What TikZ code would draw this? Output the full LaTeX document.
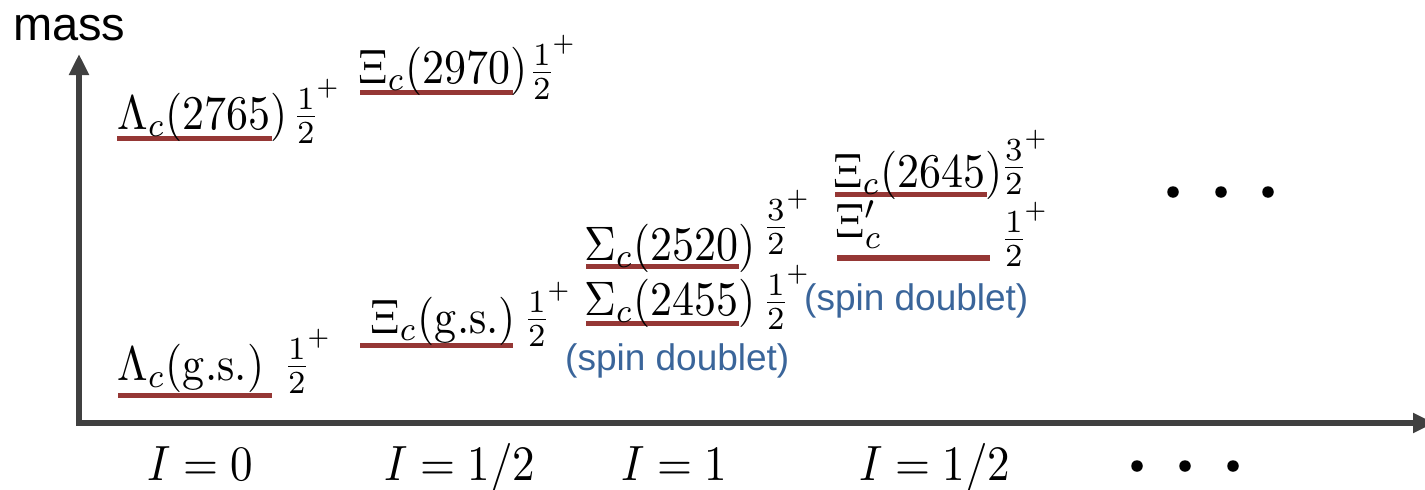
\documentclass[tikz,border=0pt]{standalone}
\usepackage[no-math]{fontspec}
\usepackage{graphicx}
\newfontfamily\labsans{Liberation Sans}
\usetikzlibrary{arrows.meta}
\definecolor{lvlred}{HTML}{953735}
\definecolor{noteblue}{HTML}{3A659A}
\definecolor{axisgray}{HTML}{404040}
\newcommand{\stm}[1]{\scalebox{4.4}[4.84]{\fontsize{10}{12}\selectfont$#1$}}
\newcommand{\stiso}[1]{\scalebox{4.5}[4.95]{\fontsize{10}{12}\selectfont$#1$}}
\newcommand{\jpf}[1]{\scalebox{4.4}[4.6]{\fontsize{10}{12}\selectfont$\frac{#1}{2}^{\kern-0.9pt\raisebox{1.3pt}{$\scriptscriptstyle +$}}$}}
\tikzset{
  lvl/.style={draw=lvlred, line width=5.5pt},
  lab/.style={anchor=base west, inner sep=0pt},
  note/.style={anchor=base west, inner sep=0pt, text=noteblue, font=\fontsize{37}{40}\selectfont\labsans},
  axisline/.style={draw=axisgray, line width=5.5pt, {Triangle[length=21pt,width=19pt]}-{Triangle[length=21pt,width=19pt]}},
  dotnode/.style={circle, fill=black, inner sep=0pt, minimum size=11.5pt},
}
\begin{document}
\begin{tikzpicture}[x=1pt,y=-1pt]
\useasboundingbox (0,0) rectangle (1425,490);
% axes
\coordinate (O) at (79,423);
\coordinate (ytip) at (79,54);
\coordinate (xtip) at (1434,423);
\draw[axisline] (ytip) -- (O) -- (xtip);
\node[anchor=base west, inner sep=0pt, font=\fontsize{47}{50}\selectfont\labsans] (mass) at (13,40) {mass};
% level lines
\draw[lvl] (117,138.5) -- (272,138.5);
\draw[lvl] (360,92.5) -- (513,92.5);
\draw[lvl] (118,395.5) -- (272,395.5);
\draw[lvl] (360,345.5) -- (513,345.5);
\draw[lvl] (586,266.5) -- (739,266.5);
\draw[lvl] (586,323.5) -- (739,323.5);
\draw[lvl] (835,194.5) -- (987,194.5);
\draw[lvl] (837,258) -- (990,258);
% labels
\node[lab] (l1) at (117,129) {\stm{\Lambda_c(2765)}};
\node[lab] (l2) at (358,83) {\stm{\Xi_c(2970)}};
\node[lab] (l3) at (117,380) {\stm{\Lambda_c(\mathrm{g.s.})}};
\node[lab] (l4) at (370,333) {\stm{\Xi_c(\mathrm{g.s.})}};
\node[lab] (l5) at (584,260) {\stm{\Sigma_c(2520)}};
\node[lab] (l6) at (584,315) {\stm{\Sigma_c(2455)}};
\node[lab] (l7) at (833,187) {\stm{\Xi_c(2645)}};
\node[lab] (l8) at (835,237) {\stm{\Xi'_c}};
% spin-parity
\node[lab] (f1) at (291.7,128) {\jpf{1}};
\node[lab] (f2) at (527.7,84) {\jpf{1}};
\node[lab] (f3) at (282.7,378) {\jpf{1}};
\node[lab] (f4) at (522.7,331) {\jpf{1}};
\node[lab] (f5) at (761.7,239) {\jpf{3}};
\node[lab] (f6) at (761.7,314) {\jpf{1}};
\node[lab] (f7) at (999.7,179) {\jpf{3}};
\node[lab] (f8) at (999.7,251) {\jpf{1}};
% notes
\node[note] (s1) at (565,370) {(spin doublet)};
\node[note] (s2) at (804,310) {(spin doublet)};
% isospin
\node[lab] (i1) at (147,480) {\stiso{I=0}};
\node[lab] (i2) at (384,480) {\stiso{I=1/2}};
\node[lab] (i3) at (621,480) {\stiso{I=1}};
\node[lab] (i4) at (859,480) {\stiso{I=1/2}};
% dots
\node[dotnode] (u1) at (1173,192) {};
\node[dotnode] (u2) at (1221,192) {};
\node[dotnode] (u3) at (1268,192) {};
\node[dotnode] (d1) at (1137,466) {};
\node[dotnode] (d2) at (1185,466) {};
\node[dotnode] (d3) at (1233,466) {};
\end{tikzpicture}
\end{document}
